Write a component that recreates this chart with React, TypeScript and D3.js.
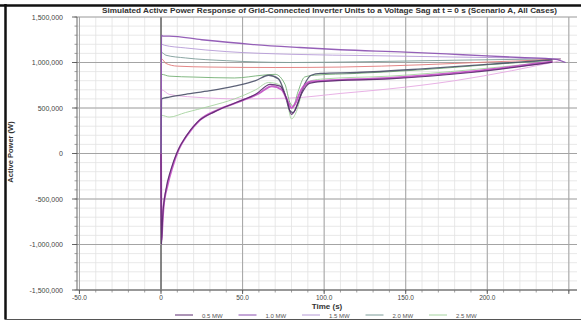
import React from 'react';
import * as d3 from 'd3';

// values (t in s, power in W)
const xTickValues = [-50, 0, 50, 100, 150, 200];
const xTickLabels = ['-50.0', '0', '50.0', '100.0', '150.0', '200.0'];
const yTickValues = [1500000, 1000000, 500000, 0, -500000, -1000000, -1500000];
const yTickLabels = ['1,500,000', '1,000,000', '500,000', '0', '-500,000', '-1,000,000', '-1,500,000'];

const legendLabels = ['0.5 MW', '1.0 MW', '1.5 MW', '2.0 MW', '2.5 MW'];

const sPurple = [[0, 0], [0.3, 1300000], [1, 1290000], [5, 1290000], [25, 1250000], [55, 1200000], [85, 1165000], [110, 1140000], [150, 1115000], [185, 1085000], [220, 1055000], [242, 1035000], [248, 1000000]];
const sLavender = [[0, 0], [0.3, 1200000], [2, 1190000], [15, 1160000], [40, 1120000], [80, 1090000], [130, 1075000], [180, 1060000], [220, 1050000], [245, 1040000]];
const sTeal = [[0, 0], [0.3, 1110000], [3, 1080000], [15, 1050000], [40, 1020000], [80, 1000000], [130, 1010000], [180, 1025000], [220, 1035000], [245, 1040000]];
const sSalmon = [[0, 0], [0.3, 1040000], [3, 990000], [10, 960000], [30, 950000], [70, 945000], [110, 950000], [160, 975000], [200, 1005000], [235, 1030000], [245, 1040000]];
const sGreen = [[0, 0], [0.3, 870000], [5, 850000], [20, 840000], [45, 830000], [62, 860000], [70, 870000], [76, 760000], [79, 560000], [81, 520000], [84, 680000], [88, 840000], [94, 860000], [120, 880000], [160, 920000], [200, 975000], [240, 1025000]];
const sSlate = [[0, 0], [0.3, 600000], [5, 620000], [15, 650000], [30, 690000], [45, 740000], [58, 800000], [66, 860000], [72, 820000], [76, 650000], [79, 470000], [81, 450000], [84, 560000], [88, 760000], [92, 860000], [98, 880000], [120, 890000], [160, 930000], [200, 980000], [240, 1030000]];
const sLightGreen = [[0, 0], [0.3, 420000], [5, 400000], [15, 450000], [30, 520000], [45, 600000], [58, 700000], [66, 780000], [72, 760000], [77, 600000], [80, 380000], [83, 460000], [87, 700000], [92, 800000], [100, 820000], [140, 850000], [190, 920000], [240, 1010000]];
const sPink = [[0, 0], [0.3, 700000], [5, 650000], [20, 620000], [50, 600000], [80, 610000], [110, 660000], [140, 710000], [180, 800000], [215, 910000], [245, 1020000]];
const sMagenta = [[0, 0], [0.3, -950000], [0.8, -800000], [1.5, -600000], [4, -350000], [7, -150000], [11, 50000], [16, 200000], [24, 370000], [35, 480000], [48, 570000], [60, 660000], [68, 740000], [74, 700000], [78, 560000], [80, 500000], [82, 540000], [86, 700000], [92, 790000], [100, 800000], [140, 830000], [190, 900000], [240, 1010000]];
const sDarkPurple = [[0, 0], [0.3, -1000000], [1, -700000], [3, -400000], [6, -180000], [10, 20000], [15, 180000], [22, 340000], [33, 460000], [46, 560000], [58, 650000], [67, 760000], [73, 740000], [77, 600000], [80, 430000], [82, 470000], [86, 650000], [91, 770000], [98, 790000], [140, 820000], [190, 890000], [240, 1005000]];

const series = [
  { data: sPink, color: '#e6a8e2', width: 1 },
  { data: sLightGreen, color: '#a6d4a0', width: 1 },
  { data: sGreen, color: '#74b074', width: 1 },
  { data: sTeal, color: '#7d9c98', width: 1 },
  { data: sSalmon, color: '#e07878', width: 1 },
  { data: sLavender, color: '#b59ad6', width: 1 },
  { data: sSlate, color: '#4a5068', width: 1.3 },
  { data: sPurple, color: '#8a4fb0', width: 1.3 },
  { data: sMagenta, color: '#c24fc4', width: 2 },
  { data: sDarkPurple, color: '#5a2a6e', width: 1.2 },
];

const W = 581;
const H = 321;
const left = 77;
const right = 577;
const top = 17;
const bottom = 290;

export default function App() {
  const x = d3.scaleLinear().domain([-51.5, 255]).range([left, right]);
  const y = d3.scaleLinear().domain([-1500000, 1500000]).range([bottom, top]);

  const line = d3
    .line<number[]>()
    .x((d) => x(d[0]))
    .y((d) => y(d[1]))
    .curve(d3.curveMonotoneX);

  const minorX = d3.range(-50, 256, 10);
  const majorX = d3.range(-50, 256, 50);
  const minorY = d3.range(-1500000, 1500001, 100000);
  const font = 'Liberation Sans, Arial, sans-serif';

  return (
    <svg width={W} height={H} style={{ position: 'absolute', left: 0, top: 0, background: '#fff' }} fontFamily={font}>
      <rect x={0} y={0} width={W} height={H} fill="#fff" />
      {/* grid */}
      {minorX.map((v) => (
        <line key={'mx' + v} x1={x(v)} x2={x(v)} y1={top} y2={bottom} stroke="#e2e2e2" strokeWidth={0.8} />
      ))}
      {minorY.map((v) => (
        <line key={'my' + v} x1={left} x2={right} y1={y(v)} y2={y(v)} stroke="#e2e2e2" strokeWidth={0.8} />
      ))}
      {majorX.map((v) => (
        <line key={'Mx' + v} x1={x(v)} x2={x(v)} y1={top} y2={bottom} stroke={v === 0 ? '#555' : '#a4a4a4'} strokeWidth={v === 0 ? 1.4 : 1} />
      ))}
      {yTickValues.map((v) => (
        <line key={'My' + v} x1={left} x2={right} y1={y(v)} y2={y(v)} stroke="#a4a4a4" strokeWidth={1} />
      ))}

      {/* series */}
      <g clipPath="url(#plotclip)">
        <defs>
          <clipPath id="plotclip">
            <rect x={left} y={top - 4} width={right - left} height={bottom - top + 4} />
          </clipPath>
        </defs>
        {series.map((s, i) => (
          <path key={i} d={line(s.data) || ''} fill="none" stroke={s.color} strokeWidth={s.width} strokeLinejoin="round" opacity={0.9} />
        ))}
      </g>

      {/* y axis */}
      <line x1={left} x2={left} y1={top} y2={bottom} stroke="#666" strokeWidth={1} />
      {minorY.map((v) => (
        <line key={'ty' + v} x1={left - 2.5} x2={left} y1={y(v)} y2={y(v)} stroke="#777" strokeWidth={0.7} />
      ))}
      {yTickValues.map((v, i) => (
        <g key={'yl' + v}>
          <line x1={left - 5} x2={left} y1={y(v)} y2={y(v)} stroke="#555" strokeWidth={0.9} />
          <text x={left - 14} y={y(v) + 2.5} textAnchor="end" fontSize={7} fill="#444">
            {yTickLabels[i]}
          </text>
        </g>
      ))}

      {/* x axis */}
      <line x1={left} x2={right} y1={bottom} y2={bottom} stroke="#666" strokeWidth={1} />
      {minorX.map((v) => (
        <line key={'tx' + v} x1={x(v)} x2={x(v)} y1={bottom} y2={bottom + 2.5} stroke="#777" strokeWidth={0.7} />
      ))}
      {majorX.map((v) => (
        <line key={'tX' + v} x1={x(v)} x2={x(v)} y1={bottom} y2={bottom + 4} stroke="#555" strokeWidth={0.9} />
      ))}
      {xTickValues.map((v, i) => (
        <text key={'xl' + v} x={x(v)} y={bottom + 10} textAnchor="middle" fontSize={6.5} fill="#444">
          {xTickLabels[i]}
        </text>
      ))}

      {/* axis titles */}
      <text x={(left + right) / 2} y={309} textAnchor="middle" fontSize={8} fontWeight="bold" fill="#333">
        Time (s)
      </text>
      <text transform="translate(13,152) rotate(-90)" textAnchor="middle" fontSize={7.5} fontWeight="bold" fill="#333">
        Active Power (W)
      </text>

      {/* legend */}
      {legendLabels.map((l, i) => {
        const lx = 175 + i * 63.5;
        const s = series[series.length - 1 - i * 2];
        return (
          <g key={'lg' + i}>
            <line x1={lx} x2={lx + 18} y1={315} y2={315} stroke={s.color} strokeWidth={1} />
            <text x={lx + 27} y={317.5} fontSize={6} fill="#555">
              {l}
            </text>
          </g>
        );
      })}

      {/* title and frame */}
      <text x={102} y={12.5} fontSize={6.5} fontWeight="bold" fill="#333" textLength={455} lengthAdjust="spacingAndGlyphs">
        Simulated Active Power Response of Grid-Connected Inverter Units to a Voltage Sag at t = 0 s (Scenario A, All Cases)
      </text>
      <line x1={0} x2={W} y1={5.5} y2={5.5} stroke="#111" strokeWidth={2.5} />
      <line x1={5.5} x2={5.5} y1={4} y2={319.5} stroke="#111" strokeWidth={2.5} />
      <line x1={5} x2={W} y1={319.5} y2={319.5} stroke="#555" strokeWidth={1.2} />
    </svg>
  );
}
